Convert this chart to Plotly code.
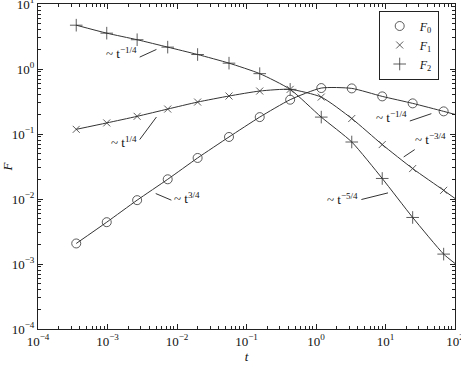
import numpy as np
import plotly.graph_objects as go

# ---- data ----
t = [3.55e-4, 9.75e-4, 2.67e-3, 7.35e-3, 1.98e-2, 5.6e-2, 0.155, 0.425,
     1.19, 3.27, 8.97, 24.6, 68.7]
F0 = [2.07e-3, 4.40e-3, 9.6e-3, 2.01e-2, 4.28e-2, 9.0e-2, 0.182, 0.337,
      0.509, 0.503, 0.379, 0.296, 0.223]
F1 = [0.118, 0.148, 0.187, 0.242, 0.310, 0.384, 0.458, 0.486,
      0.370, 0.173, 0.0688, 0.0294, 0.0136]
F2 = [4.72, 3.56, 2.82, 2.17, 1.67, 1.23, 0.848, 0.486,
      0.182, 0.0753, 0.0207, 0.0052, 0.00142]
# curve end values at the right edge (t = 100)
t_end = 100.0
F0_end, F1_end, F2_end = 0.20, 0.0102, 0.00102

x_tickvals = [1e-4, 1e-3, 1e-2, 1e-1, 1e0, 1e1, 1e2]
x_ticktext = ["10<sup>\u22124</sup>", "10<sup>\u22123</sup>", "10<sup>\u22122</sup>",
              "10<sup>\u22121</sup>", "10<sup>0</sup>", "10<sup>1</sup>", "10<sup>2</sup>"]
y_tickvals = [1e-4, 1e-3, 1e-2, 1e-1, 1e0, 1e1]
y_ticktext = ["10<sup>\u22124</sup>", "10<sup>\u22123</sup>", "10<sup>\u22122</sup>",
              "10<sup>\u22121</sup>", "10<sup>0</sup>", "10<sup>1</sup>"]

names = ["<i>F</i><sub>0</sub>", "<i>F</i><sub>1</sub>", "<i>F</i><sub>2</sub>"]
symbols = ["circle-open", "x-thin-open", "cross-thin-open"]
sizes = [9, 7, 9]

# scaling annotations: text, (t, F) anchor, xanchor, leader line (t0,F0,t1,F1)
ann_text = ["~ t<sup>\u22121/4</sup>", "~ t<sup>1/4</sup>", "~ t<sup>3/4</sup>",
            "~ t<sup>\u22121/4</sup>", "~ t<sup>\u22123/4</sup>", "~ t<sup>\u22125/4</sup>"]
ann_t = [10**-2.545, 10**-2.545, 10**-2.076, 10**1.345, 10**1.391, 10**0.640]
ann_F = [10**0.240, 10**-1.127, 10**-1.988, 10**-0.744, 10**-1.081, 10**-2.003]
ann_anchor = ["right", "right", "left", "right", "left", "right"]
lead_t = [(10**-2.537, 10**-2.296), (10**-2.537, 10**-2.296), (10**-2.306, 10**-2.081),
          (10**1.350, 10**1.660), (10**1.262, 10**1.420), (10**0.653, 10**1.036)]
lead_F = [(10**0.183, 10**0.301), (10**-1.086, 10**-0.739), (10**-1.916, 10**-2.018),
          (10**-0.800, 10**-0.687), (10**-1.353, 10**-1.240), (10**-2.008, 10**-1.906)]

FONT = "Liberation Serif, Times New Roman, serif"
LC = "#333333"
TC = "#111111"

fig = go.Figure()
for F, Fe in [(F0, F0_end), (F1, F1_end), (F2, F2_end)]:
    fig.add_trace(go.Scatter(x=t + [t_end], y=F + [Fe], mode="lines",
                             line=dict(color=LC, width=1, shape="spline", smoothing=0.6),
                             showlegend=False, hoverinfo="skip"))
for F, nm, sym, sz in zip([F0, F1, F2], names, symbols, sizes):
    fig.add_trace(go.Scatter(x=t, y=F, mode="markers", name=nm,
                             marker=dict(symbol=sym, size=sz, color=LC,
                                         line=dict(color=LC, width=0.8))))
for lt, lf in zip(lead_t, lead_F):
    fig.add_trace(go.Scatter(x=list(lt), y=list(lf), mode="lines",
                             line=dict(color=LC, width=1), showlegend=False,
                             hoverinfo="skip"))
for txt, at, af, anc in zip(ann_text, ann_t, ann_F, ann_anchor):
    fig.add_annotation(x=np.log10(at), y=np.log10(af), text=txt, showarrow=False,
                       xanchor=anc, yanchor="middle", xref="x", yref="y",
                       font=dict(family=FONT, size=13, color=TC))

axis_common = dict(type="log", ticks="inside", ticklen=5, tickcolor="#222", mirror="ticks",
                   showline=True, linecolor="#222", linewidth=1, showgrid=False,
                   zeroline=False, tickfont=dict(family=FONT, size=13, color=TC),
                   ticklabeloverflow="allow", automargin=False,
                   minor=dict(ticks="inside", ticklen=3, dtick="D1", tickcolor="#222",
                              showgrid=False))

fig.update_layout(
    width=461, height=369,
    margin=dict(l=38, r=6, t=4, b=40, autoexpand=False),
    paper_bgcolor="white", plot_bgcolor="white",
    font=dict(family=FONT, size=12, color=TC),
    xaxis=dict(range=[-4, 2], tickvals=x_tickvals, ticktext=x_ticktext,
               title=dict(text="<i>t</i>", standoff=2, font=dict(family=FONT, size=13)),
               **axis_common),
    yaxis=dict(range=[-4, 1], tickvals=y_tickvals, ticktext=y_ticktext,
               title=dict(text="<i>F</i>", standoff=0, font=dict(family=FONT, size=13)),
               **axis_common),
    legend=dict(x=0.817, y=0.98, xanchor="left", yanchor="top",
                bgcolor="white", bordercolor="#222", borderwidth=1,
                font=dict(family=FONT, size=12, color=TC), itemwidth=30),
)

fig.write_html("out.html")
